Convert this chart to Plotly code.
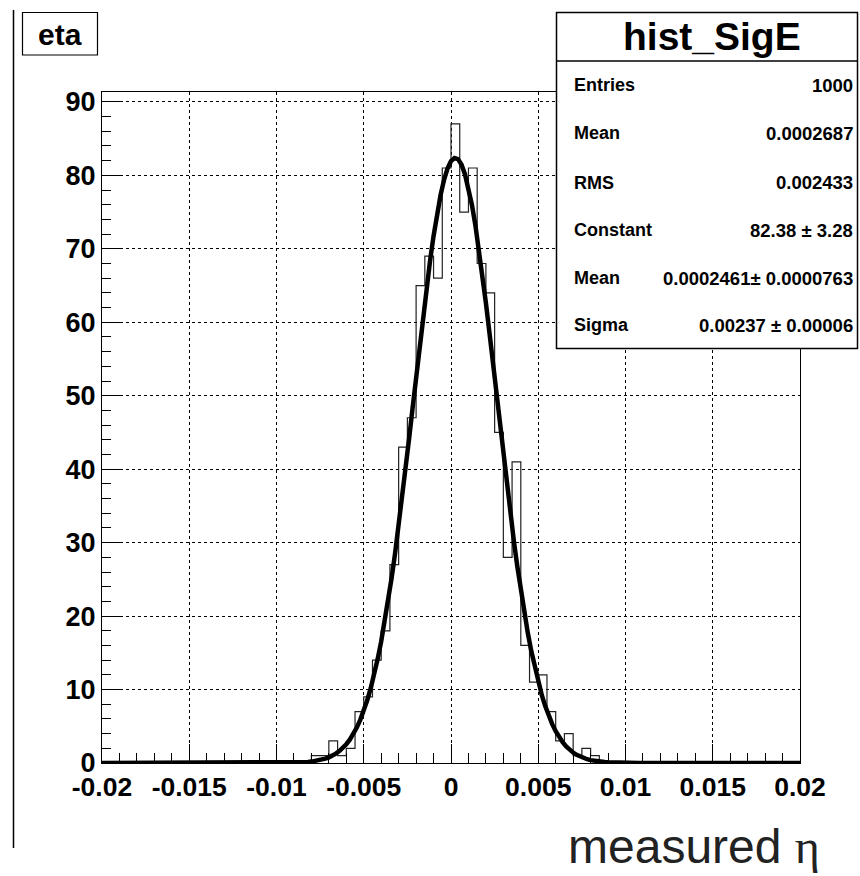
import numpy as np
import plotly.graph_objects as go

# ---------------- data ----------------
bin_lo = -0.02
bin_hi = 0.02
n_bins = 80
# counts for bins from -0.008 to 0.0085 (bin width 0.0005); all other bins are 0
nonzero_first_bin = -0.008
nonzero_counts = [1, 1, 3, 1, 2, 7, 9, 14, 18, 27, 43, 47, 65, 69, 66, 81,
                  87, 75, 81, 68, 64, 45, 28, 41, 16, 11, 12, 7, 3, 4, 1, 2, 1]

fit_constant = 82.38
fit_mean = 0.0002461
fit_sigma = 0.00237

stats_rows = [("Entries", "1000"),
              ("Mean", "0.0002687"),
              ("RMS", "0.002433"),
              ("Constant", "82.38 \u00b1 3.28"),
              ("Mean", "0.0002461\u00b1 0.0000763"),
              ("Sigma", "0.00237 \u00b1 0.00006")]

x_tickvals = [-0.02, -0.015, -0.01, -0.005, 0, 0.005, 0.01, 0.015, 0.02]
x_ticktext = ["-0.02", "-0.015", "-0.01", "-0.005", "0", "0.005", "0.01", "0.015", "0.02"]
y_tickvals = [0, 10, 20, 30, 40, 50, 60, 70, 80, 90]

# ---------------- build histogram ----------------
width = (bin_hi - bin_lo) / n_bins
edges = np.linspace(bin_lo, bin_hi, n_bins + 1)
counts = np.zeros(n_bins)
start = int(round((nonzero_first_bin - bin_lo) / width))
counts[start:start + len(nonzero_counts)] = nonzero_counts
step_x = np.concatenate([[bin_lo], edges])
step_y = np.concatenate([[0], counts, [counts[-1]]])

fx = np.linspace(bin_lo, bin_hi, 201)
fy = fit_constant * np.exp(-0.5 * ((fx - fit_mean) / fit_sigma) ** 2)

# ---------------- layout geometry ----------------
W, H = 860, 876
L, R, T, B = 102, 60, 92, 113
PW = W - L - R
PH = H - T - B
BOT = H - B


def px(x):
    return (x - L) / PW


def py(y):
    return (BOT - y) / PH


FONT = "Liberation Sans, Arial, Helvetica, sans-serif"

fig = go.Figure()
fig.add_trace(go.Scatter(x=step_x, y=step_y, mode="lines",
                         line=dict(color="#222222", width=1.2, shape="hv"),
                         hoverinfo="skip", showlegend=False))
fig.add_trace(go.Scatter(x=fx, y=fy, mode="lines",
                         line=dict(color="black", width=4.5),
                         hoverinfo="skip", showlegend=False))

shapes = []
# left canvas line
shapes.append(dict(type="line", xref="paper", yref="paper",
                   x0=px(13.5), x1=px(13.5), y0=py(10), y1=py(848),
                   line=dict(color="black", width=1.5), layer="above"))
# eta box
shapes.append(dict(type="rect", xref="paper", yref="paper",
                   x0=px(22.5), x1=px(97.5), y0=py(12.5), y1=py(55),
                   line=dict(color="black", width=1.2), fillcolor="white", layer="above"))
# stats box
shapes.append(dict(type="rect", xref="paper", yref="paper",
                   x0=px(556.5), x1=px(857.5), y0=py(12.5), y1=py(348.5),
                   line=dict(color="black", width=1.5), fillcolor="white", layer="above"))
shapes.append(dict(type="line", xref="paper", yref="paper",
                   x0=px(556.5), x1=px(857.5), y0=py(61), y1=py(61),
                   line=dict(color="black", width=1.5), layer="above"))

ann = []
ann.append(dict(text="eta", xref="paper", yref="paper", x=px(60), y=py(35),
                xanchor="center", yanchor="middle", showarrow=False,
                font=dict(family=FONT, size=30, color="black", weight="bold")))
ann.append(dict(text="hist_SigE", xref="paper", yref="paper", x=px(712), y=py(36),
                xanchor="center", yanchor="middle", showarrow=False,
                font=dict(family=FONT, size=39, color="black", weight="bold")))
row_y = [85, 133, 183, 230, 278, 325]
for (lab, val), yy in zip(stats_rows, row_y):
    ann.append(dict(text=lab, xref="paper", yref="paper", x=px(572), y=py(yy),
                    xanchor="left", yanchor="middle", showarrow=False,
                    font=dict(family=FONT, size=18, color="black", weight="bold")))
    ann.append(dict(text=val, xref="paper", yref="paper", x=px(855), y=py(yy),
                    xanchor="right", yanchor="middle", showarrow=False,
                    font=dict(family=FONT, size=18.5, color="black", weight="bold")))
ann.append(dict(text="measured <span style=\"font-family:'Liberation Serif', 'DejaVu Serif', serif\">\u03b7</span>",
                xref="paper", yref="paper", x=px(822), y=py(846),
                xanchor="right", yanchor="middle", showarrow=False,
                font=dict(family=FONT, size=48, color="#222222")))

fig.update_layout(
    width=W, height=H,
    margin=dict(l=L, r=R, t=T, b=B, pad=0),
    paper_bgcolor="white", plot_bgcolor="white",
    shapes=shapes, annotations=ann, showlegend=False,
    xaxis=dict(range=[bin_lo, bin_hi], tickvals=x_tickvals, ticktext=x_ticktext,
               ticks="inside", ticklen=19, tickwidth=1.2, tickcolor="black",
               minor=dict(ticks="inside", ticklen=10, dtick=0.001, tick0=0,
                          tickcolor="black", tickwidth=1.2, showgrid=False),
               showgrid=True, gridcolor="black", griddash="dot", gridwidth=1,
               showline=True, linecolor="black", linewidth=1.2, mirror=True,
               zeroline=False,
               tickfont=dict(family=FONT, size=26.5, color="black", weight="bold")),
    yaxis=dict(range=[0, 91.35], tickvals=y_tickvals,
               ticks="inside", ticklen=18, tickwidth=1.2, tickcolor="black",
               minor=dict(ticks="inside", ticklen=9, dtick=2, tick0=0,
                          tickcolor="black", tickwidth=1.2, showgrid=False),
               showgrid=True, gridcolor="black", griddash="dot", gridwidth=1,
               showline=True, linecolor="black", linewidth=1.2, mirror=True,
               zeroline=False,
               tickfont=dict(family=FONT, size=27, color="black", weight="bold")),
)

fig.write_html("out.html")
